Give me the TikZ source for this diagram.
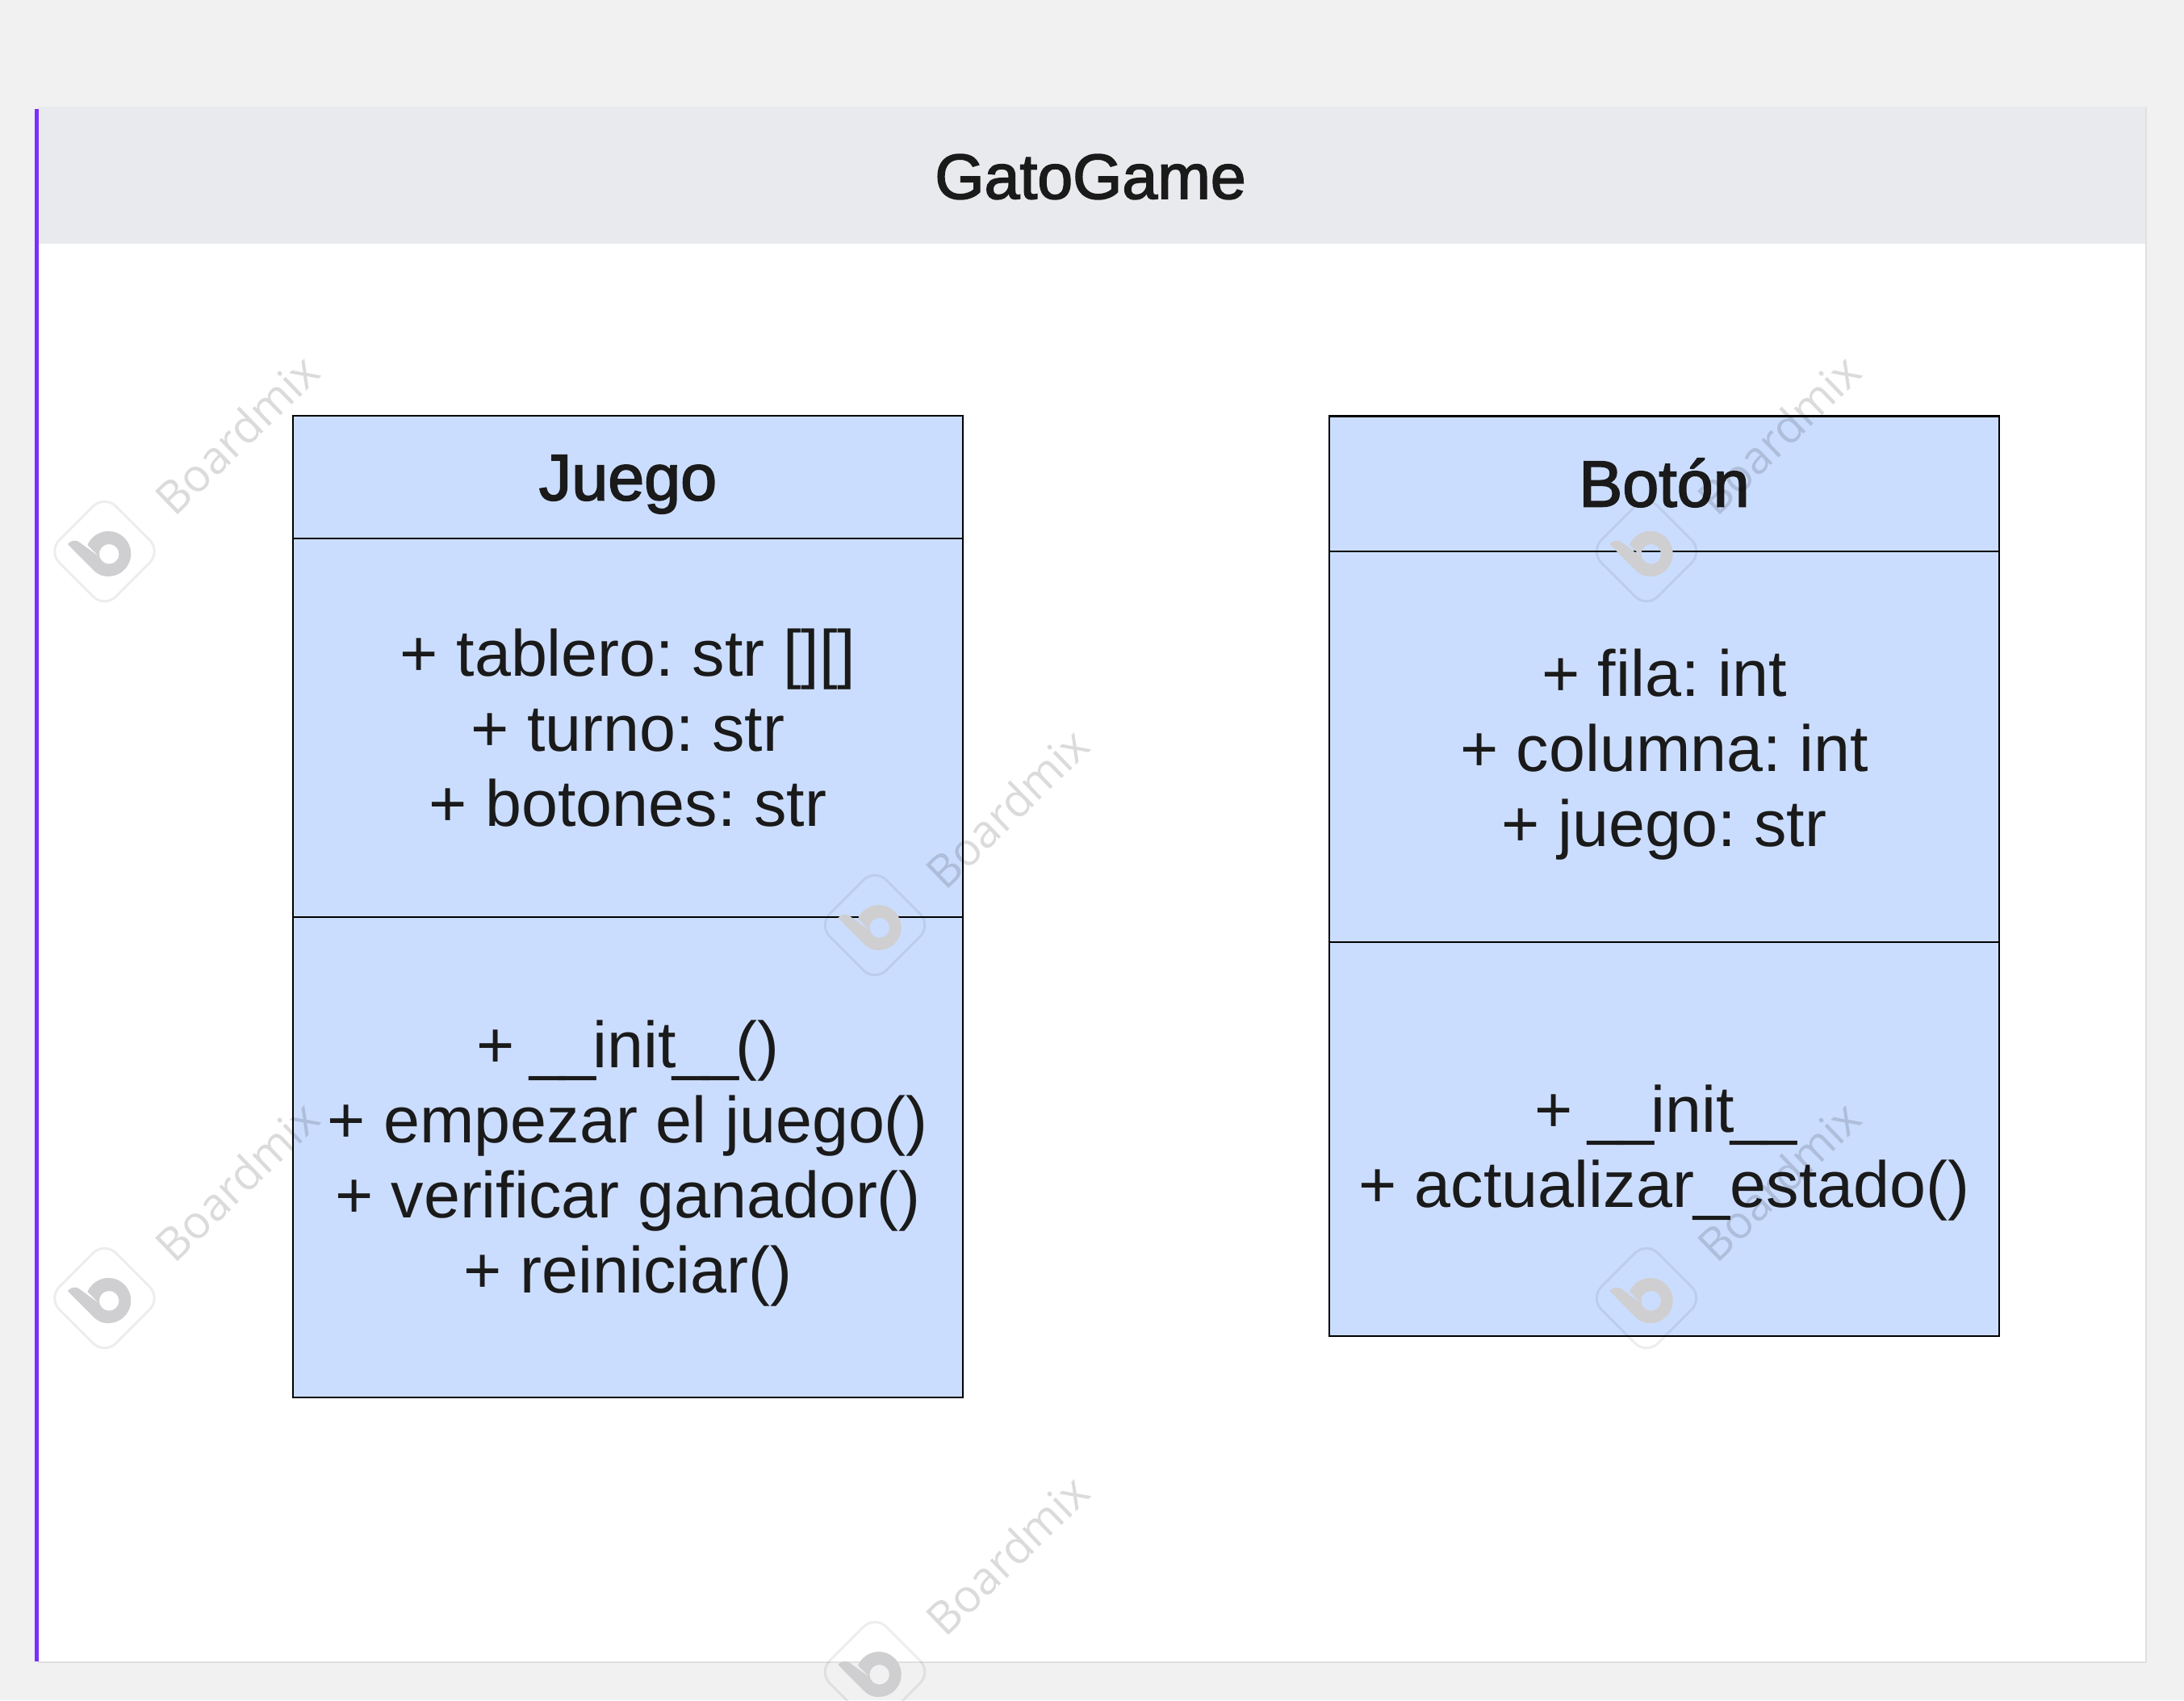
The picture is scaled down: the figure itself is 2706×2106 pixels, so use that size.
\documentclass[tikz,border=0pt]{standalone}
\usepackage{fontspec}
\setmainfont{Liberation Sans}
\newfontfamily\headfont[FakeBold=2.2]{Liberation Sans}
\newfontfamily\markfont{Open Sans}
\newcommand{\us}{\kern-0.05em\_\kern-0.05em}
\definecolor{pagebg}{HTML}{F1F1F2}
\definecolor{headbg}{HTML}{E9EAED}
\definecolor{edgeline}{HTML}{7B2FFF}
\definecolor{shadowline}{HTML}{E0E0E0}
\definecolor{boxblue}{HTML}{CBDDFE}
\definecolor{ink}{HTML}{1A1A1A}
\definecolor{markgray}{HTML}{CFCFD1}
\tikzset{
  part/.style={draw=black, fill=boxblue, line width=0.022cm, minimum width=8.3cm, inner sep=0pt},
  lab/.style={text=ink, align=center, inner sep=0pt, font=\frenchspacing\fontsize{23}{26.4}\selectfont},
  headlab/.style={text=ink, inner sep=0pt, font=\headfont\fontsize{23}{26.4}\selectfont},
  marklab/.style={text=black, text opacity=0.14, rotate=44, inner sep=0pt, font=\markfont\fontsize{16}{18}\selectfont},
}
\begin{document}
\begin{tikzpicture}[x=0.01cm,y=-0.01cm]
\useasboundingbox (0,0) rectangle (2706,2106);
\fill[pagebg] (0,0) rectangle (2706,2106);
% panel
\fill[shadowline] (47,132) rectangle (2660,2060);
\fill[white] (47,132) rectangle (2658,2058);
\fill[headbg] (47,132) rectangle (2658,302);
\fill[edgeline] (43,135) rectangle (48,2058);
\node[headlab, font=\headfont\fontsize{22.4}{26.4}\selectfont] (title) at (1351,219) {GatoGame};

% juego box
\node[part, minimum height=1.52cm] (juegohead) at (778,591) {};
\node[part, minimum height=4.68cm] (juegoattr) at (778,901.5) {};
\node[part, minimum height=5.95cm] (juegometh) at (778,1433.5) {};
\node[headlab] (juegotitle) at ([yshift=-0.09cm]juegohead) {Juego};
\node[lab] (juegoattrs) at (juegoattr) {+ tablero: str [][]\\+ turno: str\\+ botones: str};
\node[lab] (juegometodos) at ([yshift=-0.073cm]juegometh) {+ \us\us init\us\us()\\+ empezar el juego()\\+ verificar ganador()\\+ reiniciar()};

% boton box
\node[part, minimum height=1.68cm] (botonhead) at (2062,599.5) {};
\node[part, minimum height=4.84cm] (botonattr) at (2062,925.5) {};
\node[part, minimum height=4.875cm] (botonmeth) at (2062,1411) {};
\node[headlab] (botontitle) at ([yshift=0.015cm]botonhead) {Botón};
\node[lab] (botonattrs) at ([yshift=-0.09cm]botonattr) {+ fila: int\\+ columna: int\\+ juego: str};
\node[lab] (botonmetodos) at ([yshift=-0.17cm]botonmeth) {+ \us\us init\us\us\\+ actualizar\_estado()};

% watermarks
\foreach \mx/\my in {129.5/683, 2040/683, 1084/1146, 129.5/1608, 2040/1608, 1084/2071} {
  \begin{scope}[shift={(\mx,\my)}]
    \draw[black, opacity=0.07, line width=0.03cm, rounded corners=0.2cm, rotate=45] (-49.5,-49.5) rectangle (49.5,49.5);
    \fill[markgray, even odd rule] (-21,-8) arc[start angle=203, end angle=450, radius=28]
      .. controls (-4,31.3) and (-10,27) .. (-14,23) -- (-45.7,-9)
      .. controls (-42,-13.5) and (-36,-14.5) .. (-32,-12) -- (-6,7) -- cycle
      (18,3.3) arc[start angle=0, end angle=360, radius=12.3];
    \node[marklab] (mark\mx\my) at (164,-145) {Boardmix};
  \end{scope}
}
\end{tikzpicture}
\end{document}
